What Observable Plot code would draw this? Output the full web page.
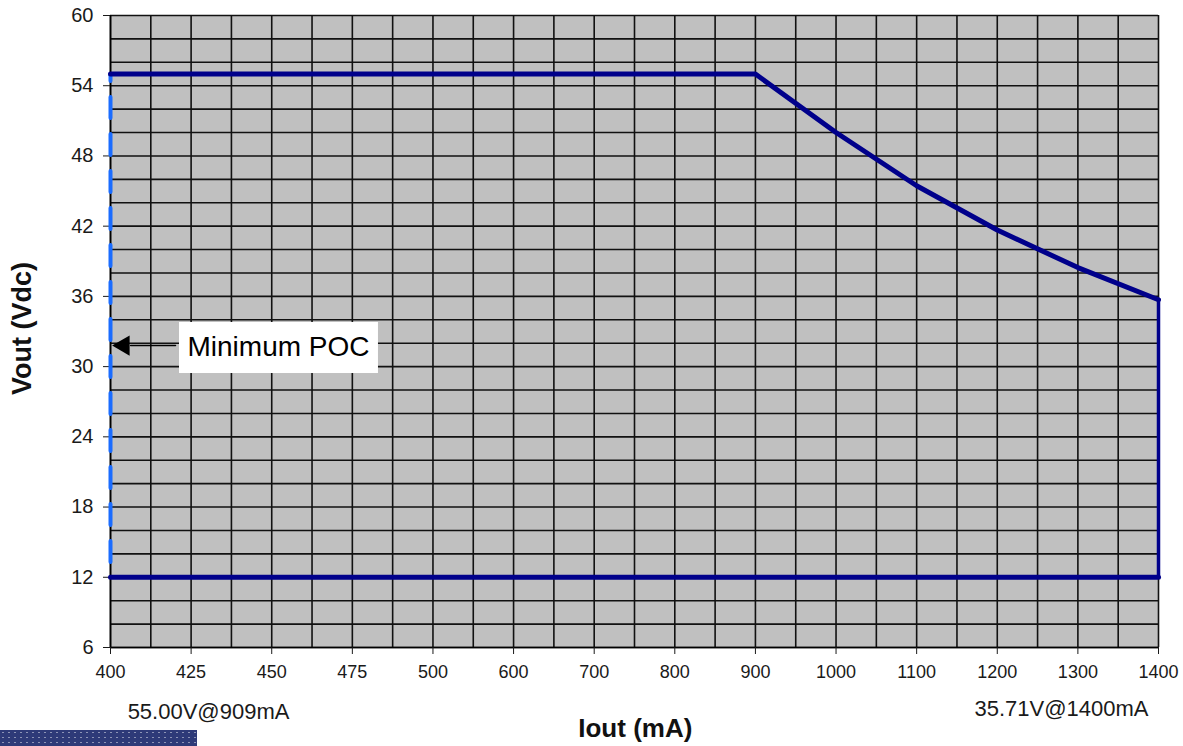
<!DOCTYPE html>
<html>
<head>
<meta charset="utf-8">
<script src="https://cdn.jsdelivr.net/npm/d3@7"></script>
<script src="https://cdn.jsdelivr.net/npm/@observablehq/plot@0.6"></script>
<style>
  html, body { margin: 0; padding: 0; background: #fff; }
  #wrap { position: relative; width: 1183px; height: 746px; overflow: hidden; }
  #bar { position: absolute; left: 0; top: 730px; width: 197px; height: 16px;
         background-color: #2e3a78;
         background-image: radial-gradient(rgba(255,255,255,0.45) 0.8px, transparent 1px);
         background-size: 6px 5px; }
</style>
</head>
<body>
<div id="wrap"><div id="bar"></div></div>
<script>
// Category ticks on the current axis (mA), evenly spaced
const currents = [400, 425, 450, 475, 500, 600, 700, 800, 900, 1000, 1100, 1200, 1300, 1400];
// Upper operating curve (constant 55 V, then constant power)
const curveI = [400, 900, 1000, 1100, 1200, 1300, 1400];
const curveV = [55, 55, 50, 45.45, 41.67, 38.46, 35.71];
// Lower limit
const minV = 12;
const vTicks = [6, 12, 18, 24, 30, 36, 42, 48, 54, 60];
const notes = [
  {label: "55.00V@909mA", i: 1.216, v: 0.53},
  {label: "35.71V@1400mA", i: 11.797, v: 0.79}
];

const pos = mA => currents.indexOf(mA);
const upper = curveI.map((c, k) => ({x: pos(c), y: curveV[k]}));
const lastI = pos(curveI[curveI.length - 1]);
const outline = [...upper, {x: lastI, y: minV}, {x: pos(curveI[0]), y: minV}];

const xGrid = d3.range(0, currents.length - 1 + 0.001, 0.5);
const yGrid = d3.range(6, 60.001, 2);

const font = "'Liberation Sans', Arial, sans-serif";

const chart = Plot.plot({
  width: 1183,
  height: 746,
  marginLeft: 110,
  marginRight: 25,
  marginTop: 15,
  marginBottom: 99,
  style: {fontFamily: font, fontSize: "18px", color: "#1a1a1a", background: "#fff", overflow: "visible"},
  x: {domain: [0, currents.length - 1]},
  y: {domain: [6, 60]},
  marks: [
    Plot.frame({fill: "#c0c0c0", stroke: "#9a9a9a", strokeWidth: 1}),
    Plot.ruleX(xGrid, {stroke: "#111", strokeWidth: 1.6}),
    Plot.ruleY(yGrid, {stroke: "#111", strokeWidth: 1.6}),
    Plot.ruleX([0], {stroke: "#000", strokeWidth: 1.6}),
    Plot.ruleY([6], {stroke: "#000", strokeWidth: 1.6}),
    Plot.axisX({ticks: d3.range(currents.length), tickFormat: i => String(currents[i]), tickSize: 7, tickPadding: 11, fontSize: 18, label: null}),
    Plot.axisY({ticks: vTicks, tickSize: 7, tickPadding: 10, fontSize: 20, label: null}),
    // dashed minimum POC line
    Plot.line([{x: 0, y: curveV[0]}, {x: 0, y: minV}], {x: "x", y: "y", stroke: "#1a6cff", strokeWidth: 4, strokeDasharray: "21,16", strokeDashoffset: 14}),
    // operating envelope
    Plot.line(outline.slice(0, upper.length), {x: "x", y: "y", stroke: "#00008b", strokeWidth: 5, strokeLinejoin: "round"}),
    Plot.line([outline[upper.length - 1], outline[upper.length]], {x: "x", y: "y", stroke: "#00008b", strokeWidth: 3.5}),
    Plot.line(outline.slice(upper.length), {x: "x", y: "y", stroke: "#00008b", strokeWidth: 5}),
    // annotation box
    Plot.rect([{x1: 0.856, x2: 3.324, y1: 29.41, y2: 33.77}], {x1: "x1", x2: "x2", y1: "y1", y2: "y2", fill: "#fff"}),
    Plot.text(["Minimum POC"], {x: 0.955, y: 31.7, text: d => d, textAnchor: "start", fontSize: 28, fill: "#000"}),
    Plot.line([{x: 0.806, y: 31.8}, {x: 0.25, y: 31.8}], {x: "x", y: "y", stroke: "#000", strokeWidth: 1.5}),
    Plot.dot([{x: 0.165, y: 31.8}], {x: "x", y: "y", symbol: "triangle", rotate: -90, r: 7.5, fill: "#000", stroke: null}),
    // bottom notes
    Plot.text(notes, {x: "i", y: "v", text: "label", fontSize: 22, fill: "#1a1a1a", clip: false}),
    // axis titles
    Plot.text(["Iout (mA)"], {x: 6.51, y: -0.92, text: d => d, fontSize: 26, fontWeight: "bold", fill: "#111"}),
    Plot.text(["Vout (Vdc)"], {x: -1.09, y: 33.26, text: d => d, fontSize: 27, fontWeight: "bold", rotate: -90, fill: "#111"})
  ]
});
document.getElementById("wrap").prepend(chart);
</script>
</body>
</html>
